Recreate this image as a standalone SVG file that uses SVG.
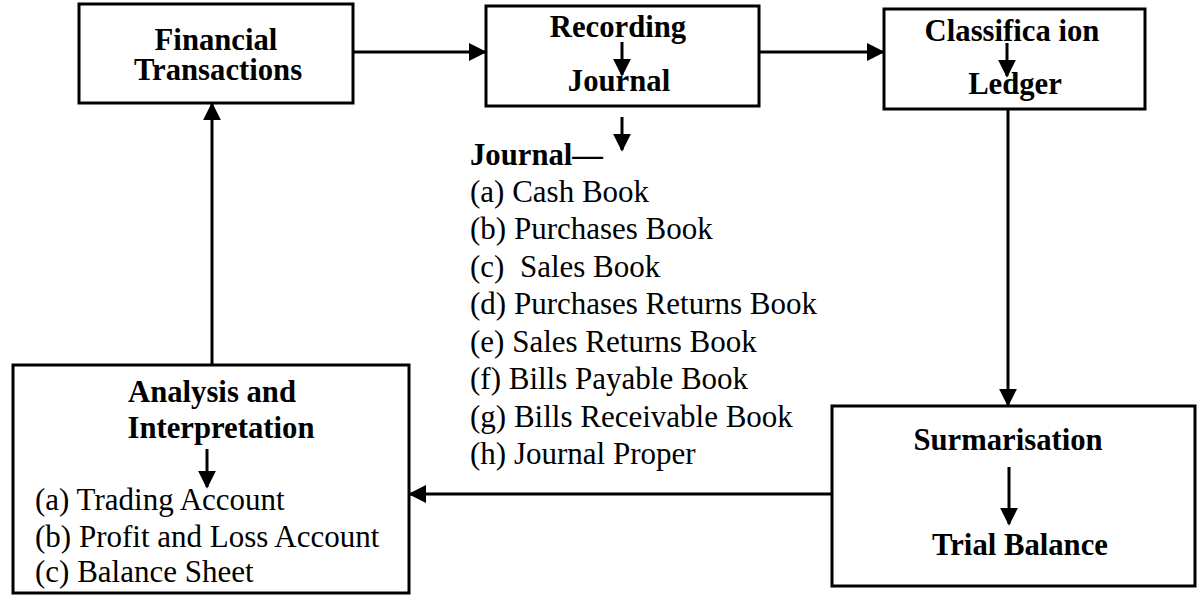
<svg xmlns="http://www.w3.org/2000/svg" width="1200" height="601" viewBox="0 0 1200 601">
<defs>
<style>
.box{fill:#fff;stroke:#000;stroke-width:3}
.hd{font-family:"Liberation Serif","Times New Roman",serif;font-weight:bold;font-size:30.7px;fill:#000;text-anchor:middle}
.it{font-family:"Liberation Serif","Times New Roman",serif;font-size:31px;fill:#000}
.ln{stroke:#000;stroke-width:3;fill:none}
</style>
<marker id="ah" viewBox="0 0 10 10" refX="9" refY="5" markerWidth="6" markerHeight="6" orient="auto" markerUnits="strokeWidth">
<path d="M0,0 L10,5 L0,10 Z" fill="#000"/>
</marker>
</defs>
<rect width="1200" height="601" fill="#fff"/>
<g id="connectors">
<line class="ln" x1="353" y1="52" x2="485" y2="52" marker-end="url(#ah)"/>
<line class="ln" x1="759" y1="52" x2="883" y2="52" marker-end="url(#ah)"/>
<line class="ln" x1="1008" y1="109" x2="1008" y2="405" marker-end="url(#ah)"/>
<line class="ln" x1="832" y1="494" x2="410" y2="494" marker-end="url(#ah)"/>
<line class="ln" x1="212" y1="365" x2="212" y2="104" marker-end="url(#ah)"/>
<line class="ln" x1="622" y1="117" x2="622" y2="150" marker-end="url(#ah)"/>
</g>
<g id="financial-transactions">
<rect class="box" x="79" y="4" width="274" height="99"/>
<text class="hd" x="216" y="50">Financial</text>
<text class="hd" x="218" y="80">Transactions</text>
</g>
<g id="recording">
<rect class="box" x="486" y="6" width="273" height="100"/>
<text class="hd" x="618" y="37">Recording</text>
<line class="ln" x1="622" y1="42" x2="622" y2="75" marker-end="url(#ah)"/>
<text class="hd" x="619" y="91">Journal</text>
</g>
<g id="classification">
<rect class="box" x="884" y="9" width="261" height="100"/>
<text class="hd" x="1012" y="41">Classifica ion</text>
<line class="ln" x1="1007" y1="43" x2="1007" y2="76" marker-end="url(#ah)"/>
<text class="hd" x="1015" y="94">Ledger</text>
</g>
<g id="journal-list">
<text class="hd" x="470" y="165" style="text-anchor:start">Journal—</text>
<text class="it" x="470" y="202">(a) Cash Book</text>
<text class="it" x="470" y="239">(b) Purchases Book</text>
<text class="it" x="470" y="277">(c)&#160; Sales Book</text>
<text class="it" x="470" y="314">(d) Purchases Returns Book</text>
<text class="it" x="470" y="352">(e) Sales Returns Book</text>
<text class="it" x="470" y="389">(f) Bills Payable Book</text>
<text class="it" x="470" y="427">(g) Bills Receivable Book</text>
<text class="it" x="470" y="464">(h) Journal Proper</text>
</g>
<g id="summarisation">
<rect class="box" x="832" y="406" width="363" height="180"/>
<text class="hd" x="1008" y="450">Surmarisation</text>
<line class="ln" x1="1009" y1="467" x2="1009" y2="524" marker-end="url(#ah)"/>
<text class="hd" x="1020" y="555">Trial Balance</text>
</g>
<g id="analysis">
<rect class="box" x="13" y="365" width="396" height="228"/>
<text class="hd" x="212" y="402">Analysis and</text>
<text class="hd" x="221" y="438">Interpretation</text>
<line class="ln" x1="207" y1="449" x2="207" y2="487" marker-end="url(#ah)"/>
<text class="it" x="35" y="510">(a) Trading Account</text>
<text class="it" x="35" y="547">(b) Profit and Loss Account</text>
<text class="it" x="35" y="582">(c) Balance Sheet</text>
</g>
</svg>
